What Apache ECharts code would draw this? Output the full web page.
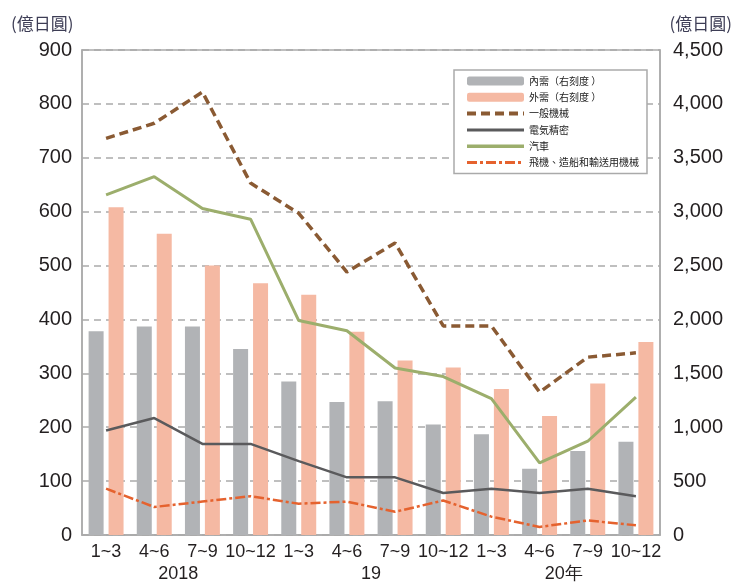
<!DOCTYPE html>
<html>
<head>
<meta charset="utf-8">
<script src="https://cdn.jsdelivr.net/npm/echarts@6/dist/echarts.min.js"></script>
<style>html,body{margin:0;padding:0;background:#fff}#c{width:740px;height:583px}</style>
</head>
<body>
<div id="c"></div>
<script>
const categories = ['1~3','4~6','7~9','10~12','1~3','4~6','7~9','10~12','1~3','4~6','7~9','10~12'];
const yearLabels = ['2018','19','20年'];
const leftTicks = [0,100,200,300,400,500,600,700,800,900];
const rightTicks = [0,500,1000,1500,2000,2500,3000,3500,4000,4500];
const domestic = [1890,1935,1935,1725,1425,1235,1240,1025,935,615,780,865];
const foreign = [3040,2795,2500,2335,2230,1885,1620,1555,1355,1105,1405,1790];
const generalMachinery = [736,764,822,653,597,488,542,388,388,265,330,338];
const electricalPrecision = [194,217,169,169,137,107,107,78,86,78,86,72];
const automobile = [631,665,606,586,398,379,310,294,253,134,174,256];
const aircraftShipTransport = [86,52,62,72,58,62,43,64,34,15,27,18];

const names = ['內需（右刻度 ）','外需（右刻度 ）','一般機械','電気精密','汽車','飛機、造船和輸送用機械'];

// year label slots: midpoint between 2nd and 3rd quarter of each year on a 25-slot boundary axis
const yearSlots = new Array(categories.length * 2 + 1).fill('');
yearLabels.forEach((y, i) => { yearSlots[i * 8 + 4] = y; });

const lineStyles = [
  {color: '#8a5a33', width: 3.5, type: [9, 5]},
  {color: '#5a5a5c', width: 2.5, type: 'solid'},
  {color: '#9cae6c', width: 3, type: 'solid'},
  {color: '#e5622e', width: 2.5, type: [10, 3, 3, 3]}
];
const legendWidths = [4, 3, 3.5, 3];

const legendData = names.map((n, i) => i < 2 ? {name: n} :
  {name: n, itemStyle: {opacity: 0}, lineStyle: Object.assign({}, lineStyles[i-2], {width: legendWidths[i-2]})});

const textColor = '#231f20';
const chart = echarts.init(document.getElementById('c'));
chart.setOption({
  animation: false,
  backgroundColor: '#fff',
  title: [
    {text: '(億日圓)', left: 6, top: 10, textStyle: {fontSize: 17, fontWeight: 'normal', color: '#3d3d55', fontFamily: 'Noto Sans CJK TC'}},
    {text: '(億日圓)', right: 3, top: 10, textStyle: {fontSize: 17, fontWeight: 'normal', color: '#3d3d55', fontFamily: 'Noto Sans CJK TC'}}
  ],
  grid: {left: 82, right: 80, top: 50, bottom: 47, show: true, borderColor: '#aaaaaa', borderWidth: 1.5, backgroundColor: 'transparent'},
  legend: {
    orient: 'vertical', left: 454, top: 70,
    data: legendData,
    itemWidth: 57, itemHeight: 9, itemGap: 4.3,
    padding: [5, 8, 5, 11],
    backgroundColor: '#fff', borderColor: '#aaaaaa', borderWidth: 1.5,
    textStyle: {fontSize: 10, lineHeight: 12, color: '#222', fontFamily: 'Noto Sans CJK TC'}
  },
  xAxis: [
    {
      type: 'category', data: categories, position: 'bottom',
      axisLine: {show: true, lineStyle: {color: '#aaaaaa', width: 1.5}},
      axisTick: {show: false},
      axisLabel: {interval: 0, fontSize: 18, color: textColor, margin: 8, fontFamily: 'Liberation Sans'}
    },
    {
      type: 'category', data: yearSlots, position: 'bottom', boundaryGap: false, offset: 22,
      axisLine: {show: false}, axisTick: {show: false},
      axisLabel: {interval: 0, fontSize: 18, color: textColor, margin: 8, fontFamily: 'Liberation Sans'}
    }
  ],
  yAxis: [
    {
      type: 'value', min: leftTicks[0], max: leftTicks[leftTicks.length-1], interval: leftTicks[1]-leftTicks[0],
      axisLine: {show: true, lineStyle: {color: '#aaaaaa', width: 1.5}},
      axisTick: {show: false},
      axisLabel: {fontSize: 20, color: textColor, margin: 10, fontFamily: 'Liberation Sans'},
      splitLine: {show: true, lineStyle: {color: '#aaaaaa', width: 1.5, type: [7, 5]}}
    },
    {
      type: 'value', min: rightTicks[0], max: rightTicks[rightTicks.length-1], interval: rightTicks[1]-rightTicks[0],
      axisLine: {show: true, lineStyle: {color: '#aaaaaa', width: 1.5}},
      axisTick: {show: false},
      splitLine: {show: false},
      axisLabel: {fontSize: 20, color: textColor, margin: 13, fontFamily: 'Liberation Sans',
        formatter: v => v.toLocaleString('en-US')}
    }
  ],
  series: [
    {name: names[0], type: 'bar', yAxisIndex: 1, data: domestic, barWidth: 15, barGap: '33%', itemStyle: {color: '#b1b3b6'}},
    {name: names[1], type: 'bar', yAxisIndex: 1, data: foreign, barWidth: 15, itemStyle: {color: '#f5b9a3'}},
    {name: names[2], type: 'line', yAxisIndex: 0, data: generalMachinery, symbol: 'none', z: 5,
      lineStyle: lineStyles[0], itemStyle: {color: lineStyles[0].color}},
    {name: names[3], type: 'line', yAxisIndex: 0, data: electricalPrecision, symbol: 'none', z: 5,
      lineStyle: lineStyles[1], itemStyle: {color: lineStyles[1].color}},
    {name: names[4], type: 'line', yAxisIndex: 0, data: automobile, symbol: 'none', z: 5,
      lineStyle: lineStyles[2], itemStyle: {color: lineStyles[2].color}},
    {name: names[5], type: 'line', yAxisIndex: 0, data: aircraftShipTransport, symbol: 'none', z: 5,
      lineStyle: lineStyles[3], itemStyle: {color: lineStyles[3].color}}
  ]
});
</script>
</body>
</html>
